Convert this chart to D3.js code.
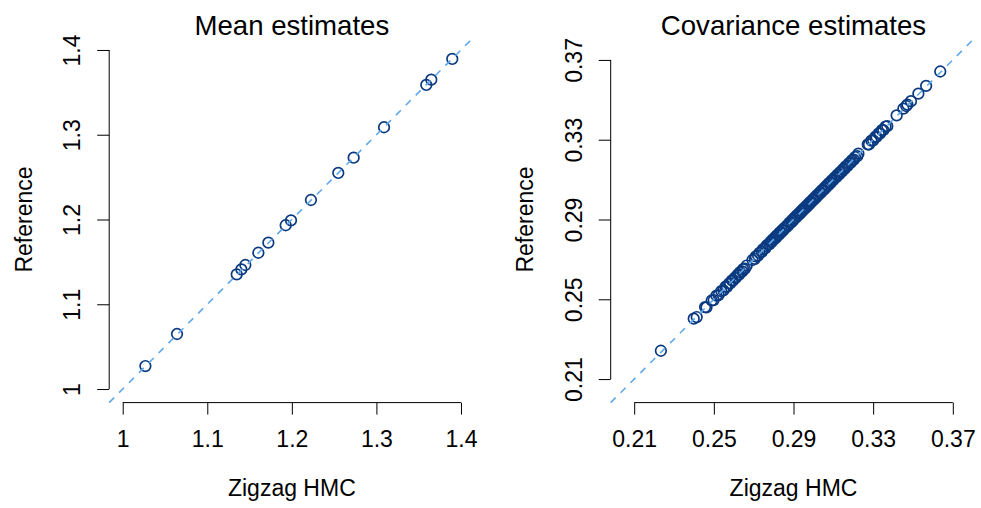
<!DOCTYPE html>
<html>
<head>
<meta charset="utf-8">
<script src="https://cdn.jsdelivr.net/npm/d3@7"></script>
<style>
  html, body { margin: 0; padding: 0; background: #fff; }
  svg { display: block; font-family: "Liberation Sans", Arial, Helvetica, sans-serif; }
</style>
</head>
<body>
<svg id="chart" width="981" height="508"></svg>
<script>
// ---------- data ----------
const meanX = [1.0268, 1.0642, 1.1348, 1.1403, 1.1450, 1.1604, 1.1722, 1.1927, 1.1990, 1.2226, 1.2549, 1.2731, 1.3090, 1.3590, 1.3649, 1.3897];
const meanY = [1.0271, 1.0649, 1.1353, 1.1412, 1.1463, 1.1608, 1.1727, 1.1932, 1.1990, 1.2230, 1.2549, 1.2729, 1.3088, 1.3587, 1.3650, 1.3894];

const covX = [
  0.2234, 0.2399, 0.2414, 0.2456, 0.2463, 0.2489, 0.2499, 0.2513, 0.2524, 0.2537, 0.2548,
  0.2559, 0.2566, 0.2577, 0.2582, 0.2591, 0.2596, 0.2606, 0.2610, 0.2619, 0.2627, 0.2632, 0.2643, 0.2647, 0.2656, 0.2665,
  0.2694, 0.2706, 0.2711, 0.2722, 0.2729, 0.2741, 0.2746, 0.2758, 0.2763,
  0.2771, 0.2780, 0.2784, 0.2791, 0.2795, 0.2804, 0.2807, 0.2815, 0.2818, 0.2827, 0.2830, 0.2838, 0.2842, 0.2850, 0.2855, 0.2863, 0.2867, 0.2875, 0.2880, 0.2889,
  0.2893, 0.2900, 0.2904, 0.2912, 0.2915, 0.2923, 0.2927, 0.2934, 0.2938, 0.2946, 0.2949, 0.2957, 0.2960, 0.2968, 0.2972, 0.2979, 0.2983, 0.2991, 0.2995,
  0.3003, 0.3007, 0.3014, 0.3018, 0.3026, 0.3030, 0.3038, 0.3042, 0.3050, 0.3054, 0.3062, 0.3066, 0.3074, 0.3078, 0.3087, 0.3092,
  0.3101, 0.3106, 0.3115, 0.3120, 0.3129, 0.3134, 0.3143, 0.3148, 0.3157, 0.3162, 0.3172, 0.3178, 0.3188, 0.3194,
  0.3203, 0.3209, 0.3220, 0.3226,
  0.3273, 0.3279, 0.3291, 0.3300, 0.3311, 0.3317, 0.3328, 0.3334, 0.3344, 0.3351, 0.3362, 0.3371,
  0.3418, 0.3452, 0.3466, 0.3472, 0.3490, 0.3527, 0.3566, 0.3637
];
const covY = [
  0.2242, 0.2403, 0.2411, 0.2461, 0.2459, 0.2494, 0.2496, 0.2518, 0.2521, 0.2541, 0.2545,
  0.2563, 0.2562, 0.2580, 0.2579, 0.2595, 0.2593, 0.2609, 0.2607, 0.2623, 0.2624, 0.2636, 0.2640, 0.2651, 0.2653, 0.2669,
  0.2697, 0.2703, 0.2715, 0.2719, 0.2733, 0.2738, 0.2750, 0.2755, 0.2767,
  0.2774, 0.2777, 0.2788, 0.2788, 0.2799, 0.2801, 0.2811, 0.2812, 0.2822, 0.2824, 0.2834, 0.2835, 0.2846, 0.2847, 0.2858, 0.2860, 0.2870, 0.2872, 0.2884, 0.2886,
  0.2897, 0.2897, 0.2908, 0.2909, 0.2919, 0.2920, 0.2931, 0.2931, 0.2942, 0.2943, 0.2953, 0.2954, 0.2964, 0.2965, 0.2976, 0.2976, 0.2987, 0.2988, 0.2999,
  0.3000, 0.3011, 0.3011, 0.3022, 0.3023, 0.3034, 0.3035, 0.3046, 0.3047, 0.3058, 0.3059, 0.3070, 0.3071, 0.3082, 0.3084, 0.3096,
  0.3098, 0.3110, 0.3112, 0.3124, 0.3126, 0.3138, 0.3140, 0.3152, 0.3154, 0.3166, 0.3169, 0.3182, 0.3185, 0.3198,
  0.3200, 0.3213, 0.3217, 0.3230,
  0.3277, 0.3276, 0.3295, 0.3297, 0.3315, 0.3314, 0.3332, 0.3331, 0.3348, 0.3348, 0.3366, 0.3368,
  0.3422, 0.3456, 0.3469, 0.3476, 0.3493, 0.3531, 0.3570, 0.3642
];

const meanLim = [0.984, 1.416];
const covLim = [0.1982, 0.3818];
const meanTicks = [1.0, 1.1, 1.2, 1.3, 1.4];
const meanTickLabels = ["1", "1.1", "1.2", "1.3", "1.4"];
const covTicks = [0.21, 0.25, 0.29, 0.33, 0.37];
const covTickLabels = ["0.21", "0.25", "0.29", "0.33", "0.37"];

const panelTitles = ["Mean estimates", "Covariance estimates"];
const xTitle = "Zigzag HMC";
const yTitle = "Reference";

// ---------- style ----------
const pointColor = "#0c3a80";
const lineColor = "#5ea8e8";
const labelSize = 23;
const titleSize = 27.6;

const svg = d3.select("#chart");

const panels = [
  { xs: meanX, ys: meanY, lim: meanLim, ticks: meanTicks, labels: meanTickLabels, title: panelTitles[0], left: 109.2, right: 474.5 },
  { xs: covX, ys: covY, lim: covLim, ticks: covTicks, labels: covTickLabels, title: panelTitles[1], left: 610.7, right: 976.3 }
];
const plotTop = 36.4, plotBottom = 402.6;

panels.forEach(p => {
  const x = d3.scaleLinear().domain(p.lim).range([p.left, p.right]);
  const y = d3.scaleLinear().domain(p.lim).range([plotBottom, plotTop]);
  const g = svg.append("g");

  // points
  const pts = p.xs.map((v, i) => [v, p.ys[i]]);
  g.append("g").selectAll("circle").data(pts).join("circle")
    .attr("cx", d => x(d[0]))
    .attr("cy", d => y(d[1]))
    .attr("r", 5.3)
    .attr("fill", "none")
    .attr("stroke", pointColor)
    .attr("stroke-width", 1.7);

  // y = x reference line (clipped to plot region = domain corners)
  g.append("line")
    .attr("x1", x(p.lim[0])).attr("y1", y(p.lim[0]))
    .attr("x2", x(p.lim[1])).attr("y2", y(p.lim[1]))
    .attr("stroke", lineColor)
    .attr("stroke-width", 1.6)
    .attr("stroke-dasharray", "7,7");

  // x axis
  const xAxis = d3.axisBottom(x).tickValues(p.ticks).tickSize(12)
    .tickFormat((d, i) => p.labels[i]);
  const gx = g.append("g").attr("transform", `translate(0,${plotBottom})`).call(xAxis);
  gx.select(".domain").remove();
  gx.append("line")
    .attr("x1", x(p.ticks[0])).attr("x2", x(p.ticks[p.ticks.length - 1]))
    .attr("y1", 0).attr("y2", 0)
    .attr("stroke", "#000").attr("stroke-width", 1);
  gx.selectAll(".tick line").attr("stroke", "#000").attr("stroke-width", 1);
  gx.selectAll(".tick text")
    .attr("y", 44.7).attr("dy", null)
    .attr("fill", "#000")
    .style("font-size", labelSize + "px")
    .style("font-family", "'Liberation Sans', Arial, sans-serif");

  // y axis
  const yAxis = d3.axisLeft(y).tickValues(p.ticks).tickSize(12)
    .tickFormat((d, i) => p.labels[i]);
  const gy = g.append("g").attr("transform", `translate(${p.left},0)`).call(yAxis);
  gy.select(".domain").remove();
  gy.append("line")
    .attr("y1", y(p.ticks[0])).attr("y2", y(p.ticks[p.ticks.length - 1]))
    .attr("x1", 0).attr("x2", 0)
    .attr("stroke", "#000").attr("stroke-width", 1);
  gy.selectAll(".tick line").attr("stroke", "#000").attr("stroke-width", 1);
  gy.selectAll(".tick text")
    .attr("x", null).attr("dy", null).attr("y", null)
    .attr("transform", "translate(-29,0) rotate(-90)")
    .attr("text-anchor", "middle")
    .attr("fill", "#000")
    .style("font-size", labelSize + "px")
    .style("font-family", "'Liberation Sans', Arial, sans-serif");

  const cx = (p.left + p.right) / 2;
  const cy = (plotTop + plotBottom) / 2;

  // title
  g.append("text")
    .attr("x", cx).attr("y", 35)
    .attr("text-anchor", "middle")
    .style("font-size", titleSize + "px")
    .attr("fill", "#000")
    .text(p.title);

  // x title
  g.append("text")
    .attr("x", cx).attr("y", 496)
    .attr("text-anchor", "middle")
    .style("font-size", labelSize + "px")
    .attr("fill", "#000")
    .text(xTitle);

  // y title
  g.append("text")
    .attr("transform", `translate(${p.left - 77.5},${cy}) rotate(-90)`)
    .attr("text-anchor", "middle")
    .style("font-size", labelSize + "px")
    .attr("fill", "#000")
    .text(yTitle);
});
</script>
</body>
</html>
